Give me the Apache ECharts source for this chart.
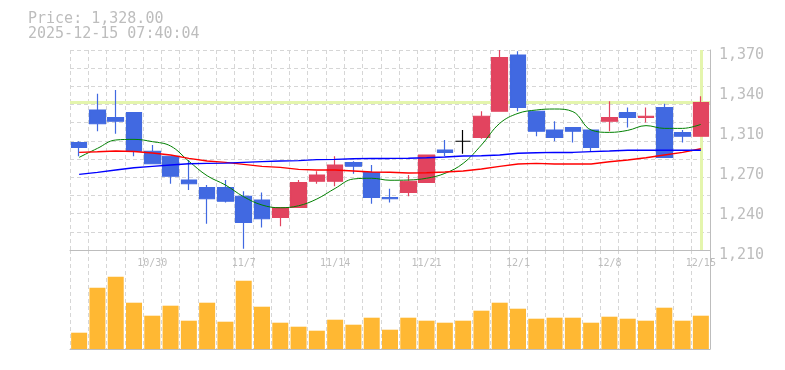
<!DOCTYPE html>
<html>
<head>
<meta charset="utf-8">
<script src="https://cdn.jsdelivr.net/npm/echarts@6/dist/echarts.min.js"></script>
<style>
html,body{margin:0;padding:0;background:#fff;}
#c{width:785px;height:370px;}
</style>
</head>
<body>
<div id="c"></div>
<script>
const categories = ['10/24','10/27','10/28','10/29','10/30','10/31','11/4','11/5','11/6','11/7','11/10','11/11','11/12','11/13','11/14','11/17','11/18','11/19','11/20','11/21','11/25','11/26','11/27','11/28','12/1','12/2','12/3','12/4','12/5','12/8','12/9','12/10','12/11','12/12','12/15'];
const openP  = [1296,1322,1316,1320,1289,1285,1266,1260,1260,1253,1250,1236,1244,1265,1265,1280,1272,1252,1256,1264,1290,1297,1300,1321,1366,1321,1306,1308,1306,1313,1320,1316,1324,1304,1301];
const closeP = [1292,1311,1313,1289,1279,1269,1263,1251,1249,1232,1235,1244,1264,1270,1278,1277,1252,1251,1265,1286,1288,1297,1317,1364,1324,1305,1300,1305,1292,1316,1316,1317,1284,1301,1328];
const lowP   = [1285,1305,1303,1285,1279,1263,1258,1231,1248,1211,1228,1229,1244,1263,1261,1271,1247,1248,1253,1264,1285,1287,1299,1321,1321,1301,1297,1296,1289,1305,1308,1312,1284,1296,1301];
const highP  = [1297,1335,1338,1320,1294,1285,1282,1262,1266,1257,1256,1244,1266,1273,1285,1281,1278,1259,1270,1286,1298,1306,1321,1370,1369,1321,1313,1308,1306,1329,1324,1324,1327,1306,1333];
const maShort = [1284.1,1291.3,1298,1298.5,1296.7,1293.2,1281,1269.4,1262,1252.6,1246,1243.8,1245.4,1250.8,1259.3,1266.8,1267.4,1265.8,1266,1267.4,1271.3,1279.3,1294,1311.3,1319.3,1322,1322.8,1320.7,1306,1304.1,1305.7,1309.5,1307.3,1307.3,1310.5];
const maMid = [1288.1,1288.6,1289.2,1288.8,1287.6,1286,1283.3,1281.2,1280.1,1278.5,1276.9,1276.1,1274.5,1274,1274,1273.2,1272.4,1272.2,1271.6,1271.8,1272.4,1273.2,1274.8,1276.9,1278.8,1279.3,1278.8,1278.8,1278.8,1280.6,1282,1283.8,1286,1288.1,1291];
const maLong = [1270.5,1272.1,1274,1275.8,1276.9,1278,1279,1279.3,1279.5,1280.1,1280.7,1281.2,1281.5,1282.3,1282.5,1283,1283.3,1283.3,1283.4,1283.8,1284.4,1285.2,1285.4,1286,1287.4,1287.8,1288.1,1288.1,1288.7,1289.2,1289.8,1289.8,1289.8,1289.8,1289.8];
const volume = [16.3,61.3,72.3,46.3,33.3,43.3,28.3,46.3,27.3,68.3,42.3,26.3,22.3,18.3,29.3,24.3,31.3,19.3,31.3,28.3,26.3,28.3,38.3,46.3,40.3,30.3,31.3,31.3,26.3,32.3,30.3,28.3,41.3,28.3,33.3];
const priceTicks = {min:1210, max:1370, step:32};
const timestamp = '2025-12-15 07:40:04';

const mono = 'DejaVu Sans Mono';
const gray = '#bdbdbd';
const gridDash = {color:'#d6d6d6', type:[4,3], width:1};
const lastClose = closeP[closeP.length-1];
const fmt = v => Math.round(v).toLocaleString('en-US');
const candleData = categories.map((c,i)=>[openP[i],closeP[i],lowP[i],highP[i]]);

const chart = echarts.init(document.getElementById('c'), null, {renderer:'canvas'});
chart.setOption({
  animation:false,
  title:{
    text:'Price: ' + lastClose.toLocaleString('en-US',{minimumFractionDigits:2,maximumFractionDigits:2}) + '\n' + timestamp,
    left:28, top:11, padding:0,
    textStyle:{fontFamily:mono, fontSize:15, fontWeight:'normal', color:gray, lineHeight:15.5}
  },
  grid:[
    {left:70, right:75, top:50, height:200},
    {left:70, right:75, top:250, height:99}
  ],
  xAxis:[
    {type:'category', gridIndex:0, data:categories, boundaryGap:true,
     axisLine:{show:true, lineStyle:{color:gray, width:1}},
     axisTick:{show:false},
     axisLabel:{interval:(i)=> (i-4)%5===0, fontFamily:mono, fontSize:10, color:gray, margin:8},
     splitLine:{show:true, interval:0, lineStyle:gridDash}},
    {type:'category', gridIndex:1, data:categories, boundaryGap:true,
     axisLine:{show:true, lineStyle:{color:gray, width:1}},
     axisTick:{show:false}, axisLabel:{show:false},
     splitLine:{show:true, interval:0, lineStyle:gridDash}}
  ],
  yAxis:[
    {type:'value', gridIndex:0, position:'right', min:priceTicks.min, max:priceTicks.max, interval:priceTicks.step,
     axisLine:{show:true, lineStyle:{color:gray, width:1}}, axisTick:{show:false},
     splitLine:{show:false},
     axisLabel:{fontFamily:mono, fontSize:15, color:gray, margin:9, verticalAlign:'middle',
       formatter:v=>'{v|' + fmt(Math.round(v/10)*10) + '}',
       rich:{v:{fontFamily:mono, fontSize:15, color:gray, padding:[10,0,0,0]}}}},
    {type:'value', gridIndex:0, position:'left', min:0, max:11, interval:1,
     axisLine:{show:false}, axisTick:{show:false}, axisLabel:{show:false},
     splitLine:{show:true, lineStyle:gridDash}},
    {type:'value', gridIndex:1, position:'right', min:0, max:99,
     axisLine:{show:true, lineStyle:{color:gray, width:1}}, axisTick:{show:false},
     axisLabel:{show:false}, splitLine:{show:false}}
  ],
  series:[
    {type:'line', xAxisIndex:0, yAxisIndex:0, data:[], z:1, silent:true,
     markLine:{silent:true, z:1, symbol:'none', label:{show:false},
       lineStyle:{color:'#e4f5ad', width:3, type:'solid'},
       data:[{yAxis:lastClose},{xAxis:categories[categories.length-1]}]}},
    {type:'candlestick', xAxisIndex:0, yAxisIndex:0, data:candleData, barWidth:16, z:3,
     itemStyle:{color:'#e2445f', color0:'#4169e1', borderColor:'#e2445f', borderColor0:'#4169e1', borderColorDoji:'#000000', borderWidth:1.2}},
    {type:'line', xAxisIndex:0, yAxisIndex:0, data:maShort, symbol:'none', smooth:0.4, z:4,
     lineStyle:{color:'#008000', width:1}},
    {type:'line', xAxisIndex:0, yAxisIndex:0, data:maMid, symbol:'none', z:4,
     lineStyle:{color:'#ff0000', width:1.5}},
    {type:'line', xAxisIndex:0, yAxisIndex:0, data:maLong, symbol:'none', z:4,
     lineStyle:{color:'#0000ff', width:1.5}},
    {type:'bar', xAxisIndex:1, yAxisIndex:2, data:volume, barWidth:16,
     itemStyle:{color:'#ffb833'}}
  ]
});
</script>
</body>
</html>
